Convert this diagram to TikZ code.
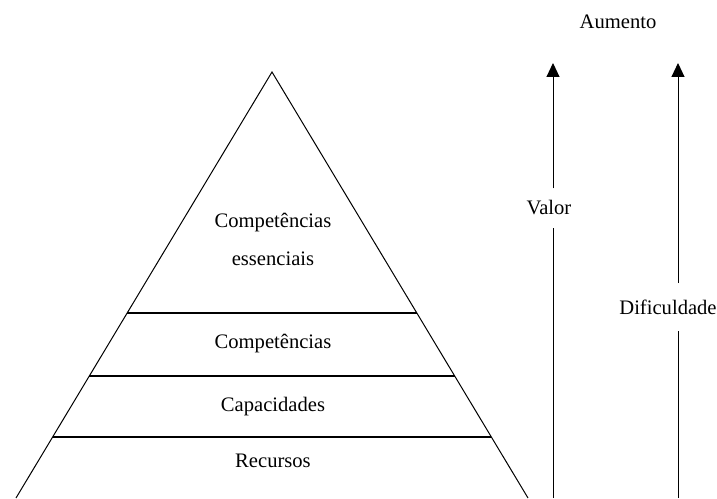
\documentclass[tikz,border=0pt]{standalone}
\usepackage{fontspec}
\setmainfont{Liberation Serif}
\usetikzlibrary{calc,arrows.meta,positioning}

\begin{document}
\begin{tikzpicture}[
    x=0.5pt, y=0.5pt,
    font=\fontsize{10.3}{12}\selectfont,
    >={Triangle[width=6.5pt,length=7pt]},
    side/.style={line width=0.5pt},
    layer/.style={line width=0.75pt},
    lbl/.style={inner sep=0pt, align=center},
    axlbl/.style={inner xsep=2pt, inner ysep=6pt}
  ]
  \useasboundingbox (0,0) rectangle (717,498);

  % Pyramid corners
  \coordinate (apex) at (272,426);
  \coordinate (bl) at (16,0);
  \coordinate (br) at (528,0);

  % Pyramid sides
  \draw[side] (bl) -- (apex) -- (br);

  % Layer separators
  \draw[layer] ($(apex)!0.566!(bl)$) -- ($(apex)!0.566!(br)$);
  \draw[layer] ($(apex)!0.714!(bl)$) -- ($(apex)!0.714!(br)$);
  \draw[layer] ($(apex)!0.857!(bl)$) -- ($(apex)!0.857!(br)$);

  % Layer labels
  \node[lbl] (core) at (273,259) {Competências\\[7pt]essenciais};
  \node[lbl] (comp) at (273,154) {Competências};
  \node[lbl] (cap)  at (273,91)  {Capacidades};
  \node[lbl] (rec)  at (273,37)  {Recursos};

  % Arrows on the right
  \node (aum) at (618,476) {Aumento};

  \coordinate (vbot) at (553,0);
  \coordinate (vtop) at (553,435);
  \node[axlbl] (valor) at (549,290) {Valor};
  \draw[side] (vbot) -- (vbot |- valor.south);
  \draw[side,->] (vtop |- valor.north) -- (vtop);

  \coordinate (dbot) at (678,0);
  \coordinate (dtop) at (678,435);
  \node[axlbl, inner ysep=8pt] (dif) at (668,191) {Dificuldade};
  \draw[side] (dbot) -- (dbot |- dif.south);
  \draw[side,->] (dtop |- dif.north) -- (dtop);

\end{tikzpicture}
\end{document}
